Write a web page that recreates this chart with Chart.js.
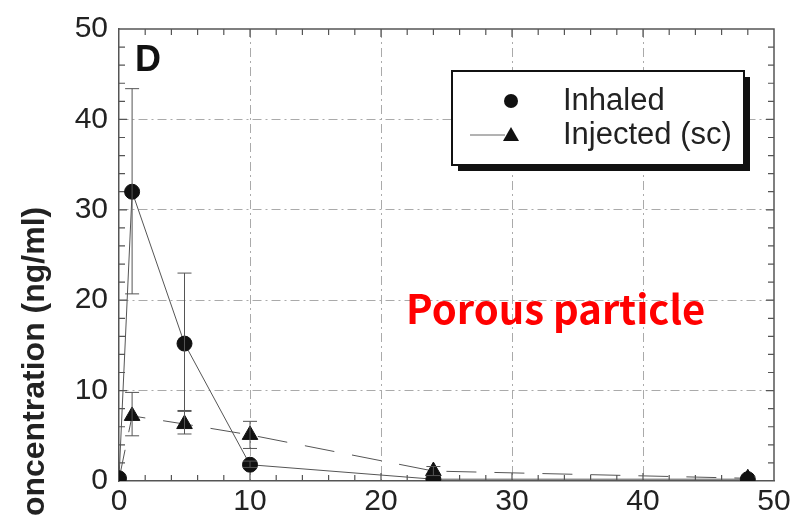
<!DOCTYPE html>
<html>
<head>
<meta charset="utf-8">
<script src="https://cdn.jsdelivr.net/npm/chart.js@4/dist/chart.umd.min.js"></script>
<style>
  html, body { margin: 0; padding: 0; background: #fff; overflow: hidden; }
  #wrap { position: relative; width: 805px; height: 517px; }
</style>
</head>
<body>
<div id="wrap"><canvas id="pkChart"></canvas></div>
<script>
// time points (h)
const timeInhaled = [0, 1, 5, 10, 24, 48];
const timeInjected = [0, 1, 5, 10, 24, 48];

// Inhaled (porous particle)
const inhaledMean = [0.3, 32, 15.2, 1.8, 0.2, 0.2];
const inhaledLow  = [0.3, 20.7, 7.8, 1.5, 0.2, 0.2];
const inhaledHigh = [0.3, 43.4, 23, 2.2, 0.2, 0.2];

// Injected (sc)
const injectedMean = [0.2, 7.2, 6.3, 5.1, 1.1, 0.3];
const injectedLow  = [0.2, 5.0, 5.2, 3.6, 0.6, 0.3];
const injectedHigh = [0.2, 9.8, 7.7, 6.6, 1.6, 0.3];

const xTicks = [0, 10, 20, 30, 40, 50];
const yTicks = [0, 10, 20, 30, 40, 50];

const axisFont = { family: "'Liberation Sans', Arial, sans-serif", size: 30 };
const axisColor = '#555';
const textColor = '#222';
const gridColor = (c) => (c.tick && (c.tick.value === 0 || c.tick.value === 50)) ? 'rgba(0,0,0,0)' : '#aaa';

function toPoints(xs, ys) {
    return xs.map((x, i) => ({ x: x, y: ys[i] }));
}

const errorBars = {
    id: 'errorBars',
    afterDatasetsDraw(chart) {
        const ctx = chart.ctx;
        const xs = chart.scales.x, ys = chart.scales.y;
        const sets = [
            [timeInhaled, inhaledLow, inhaledHigh],
            [timeInjected, injectedLow, injectedHigh]
        ];
        ctx.save();
        ctx.strokeStyle = '#555';
        ctx.lineWidth = 1;
        sets.forEach(([t, lo, hi]) => {
            t.forEach((tv, i) => {
                if (hi[i] - lo[i] < 0.3) return;
                const px = xs.getPixelForValue(tv);
                const p1 = ys.getPixelForValue(lo[i]);
                const p2 = ys.getPixelForValue(hi[i]);
                ctx.beginPath();
                ctx.moveTo(px, p1); ctx.lineTo(px, p2);
                ctx.moveTo(px - 7, p1); ctx.lineTo(px + 7, p1);
                ctx.moveTo(px - 7, p2); ctx.lineTo(px + 7, p2);
                ctx.stroke();
            });
        });
        ctx.restore();
    }
};

const decorations = {
    id: 'decorations',
    beforeDatasetsDraw(chart) {
        // frame and minor inward ticks on all four sides
        const ctx = chart.ctx, a = chart.chartArea;
        const xs = chart.scales.x, ys = chart.scales.y;
        ctx.save();
        ctx.strokeStyle = axisColor;
        ctx.lineWidth = 1.5;
        ctx.beginPath();
        ctx.moveTo(a.left, a.top); ctx.lineTo(a.right, a.top); ctx.lineTo(a.right, a.bottom);
        ctx.stroke();
        ctx.lineWidth = 1.2;
        ctx.beginPath();
        for (let v = 2; v < 50; v += 2) {
            const px = xs.getPixelForValue(v);
            const len = v % 10 === 0 ? 8 : 6;
            ctx.moveTo(px, a.bottom); ctx.lineTo(px, a.bottom - len);
            ctx.moveTo(px, a.top); ctx.lineTo(px, a.top + len);
            const py = ys.getPixelForValue(v);
            ctx.moveTo(a.left, py); ctx.lineTo(a.left + len, py);
            ctx.moveTo(a.right, py); ctx.lineTo(a.right - len, py);
        }
        ctx.stroke();
        ctx.restore();
    },
    afterDraw(chart) {
        const ctx = chart.ctx, a = chart.chartArea;
        ctx.save();
        // y axis title (clipped at the canvas edge, as in the source figure)
        ctx.translate(35, 373);
        ctx.rotate(-Math.PI / 2);
        ctx.font = "bold 32px 'Liberation Sans', Arial, sans-serif";
        ctx.fillStyle = textColor;
        ctx.textAlign = 'center';
        ctx.textBaseline = 'middle';
        ctx.fillText('Concentration (ng/ml)', 0, 0);
        ctx.restore();

        ctx.save();
        // panel letter
        ctx.font = "bold 36px 'Liberation Sans', Arial, sans-serif";
        ctx.fillStyle = '#111';
        ctx.textBaseline = 'alphabetic';
        ctx.fillText('D', a.left + 16, a.top + 42);

        // annotation
        ctx.font = "bold 40px 'Noto Sans CJK KR', 'Noto Sans', sans-serif";
        ctx.fillStyle = '#ff0000';
        ctx.fillText('Porous particle', 406, 324);

        // legend box with drop shadow
        const bx = 452, by = 71, bw = 292, bh = 94;
        ctx.fillStyle = '#111';
        ctx.fillRect(bx + 6, by + 6, bw, bh);
        ctx.fillStyle = '#fff';
        ctx.fillRect(bx, by, bw, bh);
        ctx.strokeStyle = '#111';
        ctx.lineWidth = 2;
        ctx.strokeRect(bx, by, bw, bh);

        const ds = chart.data.datasets;
        ctx.font = "31px 'Liberation Sans', Arial, sans-serif";
        ctx.fillStyle = textColor;
        ctx.textBaseline = 'middle';
        ctx.fillText(ds[0].label, 563, 101);
        ctx.fillText(ds[1].label, 563, 135);

        ctx.fillStyle = '#111';
        ctx.beginPath();
        ctx.arc(511, 101, 7, 0, Math.PI * 2);
        ctx.fill();

        ctx.strokeStyle = '#666';
        ctx.lineWidth = 1;
        ctx.beginPath();
        ctx.moveTo(470, 135); ctx.lineTo(505, 135);
        ctx.stroke();
        ctx.fillStyle = '#111';
        ctx.beginPath();
        ctx.moveTo(511, 127); ctx.lineTo(519, 141); ctx.lineTo(503, 141);
        ctx.closePath();
        ctx.fill();
        ctx.restore();
    }
};

new Chart(document.getElementById('pkChart'), {
    type: 'scatter',
    data: {
        datasets: [{
            label: 'Inhaled',
            data: toPoints(timeInhaled, inhaledMean),
            showLine: true,
            borderColor: '#555',
            borderWidth: 1,
            pointStyle: 'circle',
            pointRadius: 7.5,
            pointBackgroundColor: '#111',
            pointBorderColor: '#111'
        }, {
            label: 'Injected (sc)',
            data: toPoints(timeInjected, injectedMean),
            showLine: true,
            borderColor: '#555',
            borderWidth: 1,
            borderDash: [30, 18],
            pointStyle: 'triangle',
            pointRadius: 9,
            pointBackgroundColor: '#111',
            pointBorderColor: '#111'
        }]
    },
    options: {
        responsive: true,
        maintainAspectRatio: false,
        animation: false,
        layout: { padding: { top: 20, right: 31, left: 0, bottom: 0 } },
        plugins: {
            legend: { display: false },
            tooltip: { enabled: false }
        },
        scales: {
            x: {
                type: 'linear',
                min: 0,
                max: 50,
                afterBuildTicks: (s) => { s.ticks = xTicks.map(v => ({ value: v })); },
                afterFit: (s) => { s.height = 36; },
                ticks: { color: textColor, font: axisFont, padding: 3, maxRotation: 0 },
                grid: { color: gridColor, lineWidth: 1, drawTicks: false },
                border: { display: true, color: axisColor, width: 1.5, dash: [9, 4, 2, 4] }
            },
            y: {
                type: 'linear',
                min: 0,
                max: 50,
                afterBuildTicks: (s) => { s.ticks = yTicks.map(v => ({ value: v })); },
                afterFit: (s) => { s.width = 119; },
                ticks: { color: textColor, font: axisFont, padding: 11 },
                grid: { color: gridColor, lineWidth: 1, drawTicks: false },
                border: { display: true, color: axisColor, width: 1.5, dash: [9, 4, 2, 4] }
            }
        }
    },
    plugins: [decorations, errorBars]
});
</script>
</body>
</html>
